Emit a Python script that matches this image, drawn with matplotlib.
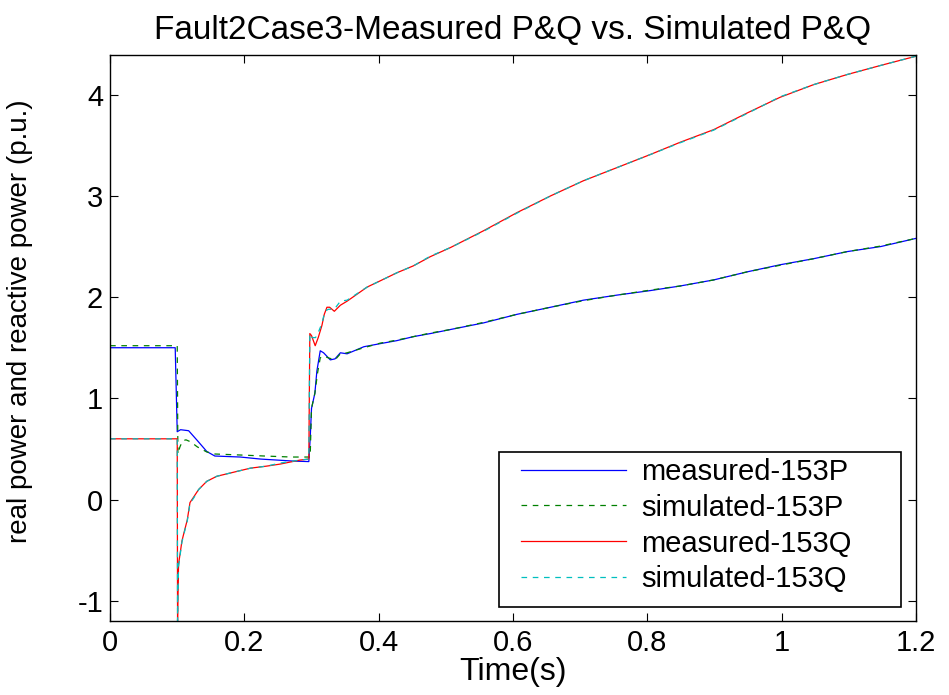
import matplotlib
matplotlib.use("Agg")
import matplotlib.pyplot as plt
from matplotlib.patches import Rectangle

plt.rcParams["font.family"] = ["Liberation Sans", "DejaVu Sans"]
plt.rcParams["axes.unicode_minus"] = False

title = "Fault2Case3-Measured P&Q vs. Simulated P&Q"
x_label = "Time(s)"
y_label = "real power and reactive power (p.u.)"
series_names = ["measured-153P", "simulated-153P", "measured-153Q", "simulated-153Q"]
x_ticks = [0, 0.2, 0.4, 0.6, 0.8, 1.0, 1.2]
x_tick_labels = ["0", "0.2", "0.4", "0.6", "0.8", "1", "1.2"]
y_ticks = [-1, 0, 1, 2, 3, 4]
y_tick_labels = ["-1", "0", "1", "2", "3", "4"]

# measured real power P (bus 153)
t_p_meas = [0, 0.097, 0.100, 0.105, 0.117, 0.129, 0.144, 0.156, 0.194, 0.224, 0.273,
            0.296, 0.298, 0.300, 0.305, 0.308, 0.313, 0.318, 0.328, 0.335, 0.343,
            0.353, 0.378, 0.402, 0.427, 0.452, 0.477, 0.507, 0.556, 0.606, 0.656,
            0.705, 0.755, 0.805, 0.849, 0.899, 0.949, 0.998, 1.048, 1.098, 1.148, 1.2]
p_meas = [1.50, 1.50, 0.67, 0.69, 0.68, 0.59, 0.475, 0.43, 0.42, 0.40, 0.38,
          0.375, 0.60, 0.90, 1.05, 1.27, 1.47, 1.45, 1.38, 1.39, 1.45,
          1.44, 1.51, 1.54, 1.57, 1.61, 1.64, 1.68, 1.745, 1.83, 1.90,
          1.97, 2.02, 2.065, 2.11, 2.17, 2.25, 2.32, 2.38, 2.45, 2.50, 2.58]

# simulated real power P
t_p_sim = [0, 0.100, 0.101, 0.104, 0.108, 0.113, 0.120, 0.130, 0.144, 0.156, 0.194,
           0.230, 0.270, 0.298, 0.300, 0.305, 0.309, 0.313, 0.318, 0.325, 0.335,
           0.343, 0.353, 0.378, 0.402, 0.427, 0.452, 0.477, 0.507, 0.556, 0.606,
           0.656, 0.705, 0.755, 0.805, 0.849, 0.899, 0.949, 0.998, 1.048, 1.098,
           1.148, 1.2]
p_sim = [1.52, 1.52, 0.45, 0.52, 0.58, 0.59, 0.57, 0.52, 0.47, 0.45, 0.44,
         0.43, 0.42, 0.42, 0.90, 1.05, 1.25, 1.40, 1.42, 1.40, 1.38,
         1.44, 1.45, 1.50, 1.545, 1.575, 1.61, 1.645, 1.68, 1.75, 1.83,
         1.90, 1.965, 2.02, 2.07, 2.11, 2.17, 2.25, 2.315, 2.38, 2.45,
         2.505, 2.58]

# measured reactive power Q
t_q_meas = [0, 0.100, 0.1005, 0.101, 0.102, 0.107, 0.110, 0.115, 0.119, 0.125,
            0.132, 0.144, 0.159, 0.184, 0.209, 0.233, 0.253, 0.283, 0.296, 0.2975,
            0.300, 0.3055, 0.310, 0.3155, 0.319, 0.323, 0.327, 0.334, 0.343, 0.353,
            0.383, 0.402, 0.427, 0.452, 0.477, 0.507, 0.556, 0.606, 0.656, 0.705,
            0.755, 0.805, 0.849, 0.899, 0.949, 0.998, 1.048, 1.098, 1.148, 1.2]
q_meas = [0.60, 0.60, -1.20, -0.95, -0.64, -0.41, -0.33, -0.20, -0.03, 0.03,
          0.10, 0.18, 0.23, 0.27, 0.31, 0.33, 0.35, 0.39, 0.40, 1.64,
          1.62, 1.52, 1.60, 1.72, 1.83, 1.90, 1.90, 1.86, 1.92, 1.96,
          2.10, 2.16, 2.24, 2.31, 2.40, 2.49, 2.655, 2.835, 3.00, 3.15,
          3.28, 3.41, 3.53, 3.655, 3.82, 3.975, 4.10, 4.20, 4.29, 4.38]

# simulated reactive power Q
t_q_sim = [0, 0.100, 0.1005, 0.101, 0.102, 0.107, 0.110, 0.115, 0.119, 0.125,
           0.132, 0.144, 0.159, 0.184, 0.209, 0.233, 0.253, 0.283, 0.296, 0.2975,
           0.301, 0.306, 0.310, 0.3155, 0.320, 0.325, 0.334, 0.343, 0.353,
           0.383, 0.402, 0.427, 0.452, 0.477, 0.507, 0.556, 0.606, 0.656, 0.705,
           0.755, 0.805, 0.849, 0.899, 0.949, 0.998, 1.048, 1.098, 1.148, 1.2]
q_sim = [0.60, 0.60, -1.20, -0.96, -0.66, -0.42, -0.34, -0.21, -0.04, 0.02,
         0.10, 0.18, 0.23, 0.27, 0.31, 0.33, 0.36, 0.39, 0.40, 1.64,
         1.60, 1.60, 1.65, 1.74, 1.86, 1.88, 1.88, 1.96, 1.97,
         2.10, 2.16, 2.24, 2.31, 2.405, 2.49, 2.65, 2.83, 3.00, 3.15,
         3.28, 3.41, 3.525, 3.65, 3.815, 3.98, 4.10, 4.20, 4.29, 4.38]

colors = [(0, 0, 1), (0, 0.5, 0), (1, 0, 0), (0, 0.75, 0.75)]

fig = plt.figure(figsize=(9.49, 6.95), dpi=100)
ax = fig.add_axes([0.116, 0.1065, 0.849, 0.814])

ax.plot(t_p_meas, p_meas, color=colors[0], lw=0.9, label=series_names[0])
ax.plot(t_p_sim, p_sim, color=colors[1], lw=0.9, dashes=(4.5, 4.5), label=series_names[1])
ax.plot(t_q_meas, q_meas, color=colors[2], lw=0.9, label=series_names[2])
ax.plot(t_q_sim, q_sim, color=colors[3], lw=0.9, dashes=(4.5, 4.5), label=series_names[3])

ax.set_xlim(0, 1.2)
ax.set_ylim(-1.2, 4.39)
ax.set_xticks(x_ticks)
ax.set_xticklabels(x_tick_labels)
ax.set_yticks(y_ticks)
ax.set_yticklabels(y_tick_labels)
ax.tick_params(direction="in", length=5.8, width=0.8, top=True, right=True,
               labelsize=21, pad=5)
ax.tick_params(axis="x", pad=6)
for s in ax.spines.values():
    s.set_linewidth(1.0)

ax.set_title(title, fontsize=24, pad=12)
ax.set_xlabel(x_label, fontsize=23, labelpad=0)
ax.set_ylabel(y_label, fontsize=20)
ax.yaxis.set_label_coords(-0.0955, 0.53)

# legend box drawn separately so its padding can differ left/right and top/bottom
ax.add_patch(Rectangle((0.4826, 0.0247), 0.4988, 0.2739, transform=ax.transAxes,
                       facecolor="white", edgecolor="black", lw=1.2, zorder=4))
leg = ax.legend(loc="upper left", bbox_to_anchor=(0.5099, 0.2885), borderaxespad=0,
                fontsize=21, handlelength=3.6, handletextpad=0.51, labelspacing=0.27,
                borderpad=0, frameon=False)
leg.set_zorder(5)

fig.savefig("out.png", dpi=100)
